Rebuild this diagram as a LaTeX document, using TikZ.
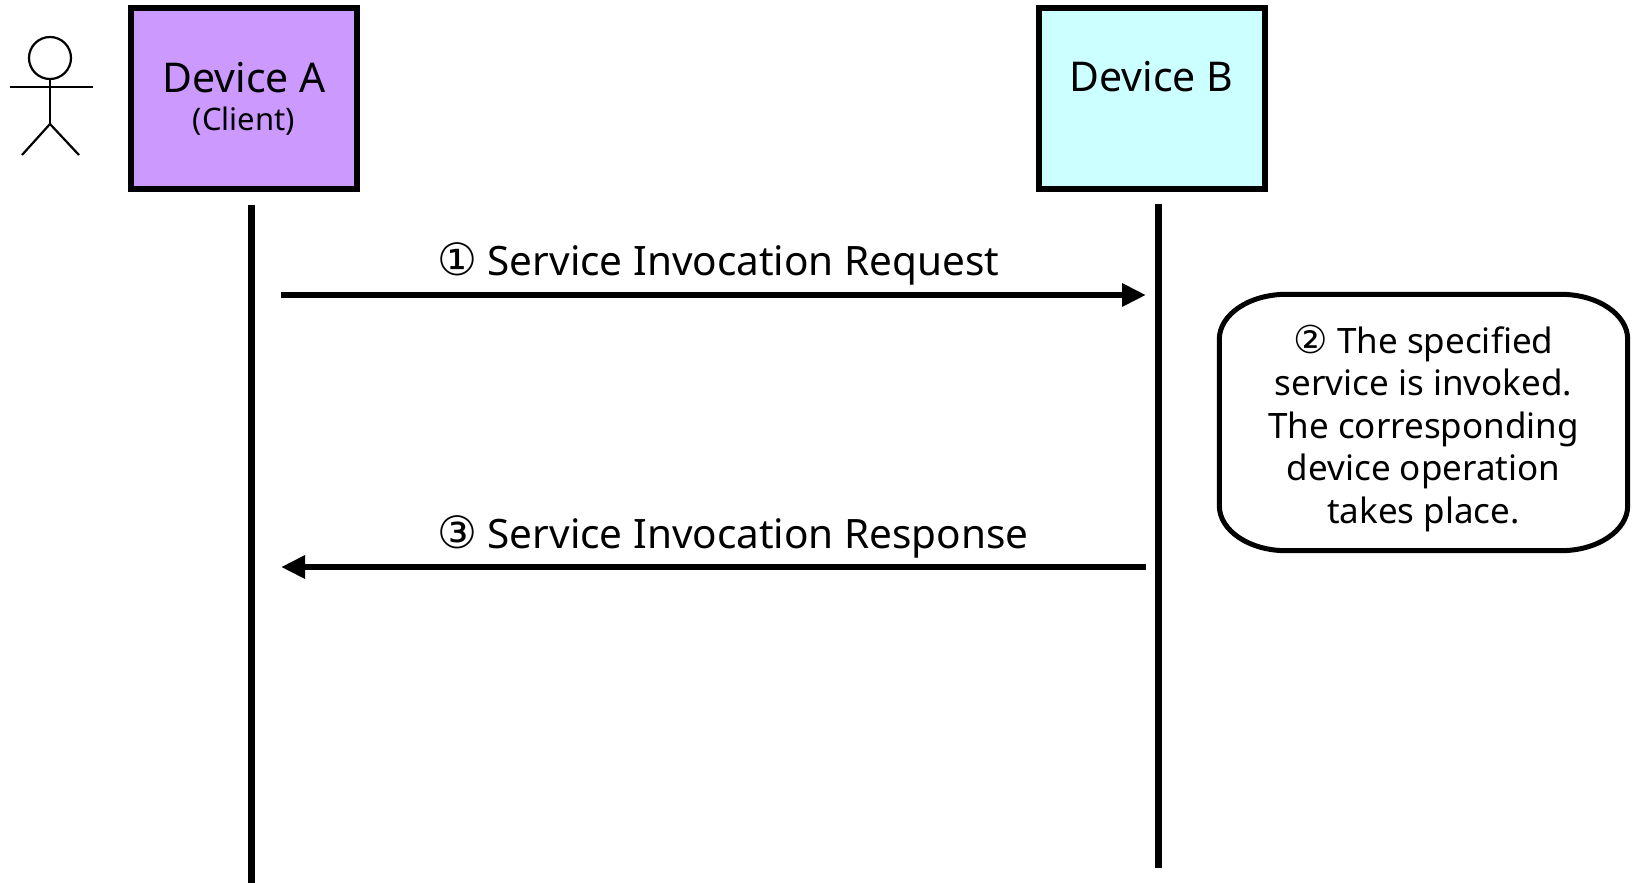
\documentclass[tikz,border=0pt]{standalone}
\usepackage{fontspec}
\usepackage{tikz}
\usetikzlibrary{arrows.meta,positioning}
\setmainfont{Noto Sans}
\newfontfamily\circfont[Scale=1.1]{DejaVu Sans}

\tikzset{
    devbox/.style = {draw, line width = 6pt, minimum width = 226pt, minimum height = 181pt, inner sep = 0pt, align = center, font = \fontsize{41}{44}\selectfont},
    lifeline/.style = {line width = 7pt},
    msg/.style = {line width = 6.5pt, -{Triangle[length = 24pt, width = 22pt]}},
    msglabel/.style = {inner sep = 0pt, anchor = base west, font = \fontsize{40.5}{44}\selectfont},
    stick/.style = {line width = 2.2pt}
}

\begin{document}
\begin{tikzpicture}[x = 1pt, y = -1pt]
        \useasboundingbox (0,0) rectangle (1634,883);
        
        % devices
        \node[devbox, fill = {rgb,255:red,204;green,153;blue,255}] (devA) at (244,98.5)
            {Device A\\[-6pt]{\fontsize{31}{34}\selectfont (Client)}};
        \node[devbox, fill = {rgb,255:red,204;green,255;blue,255}] (devB) at (1151.5,98.5)
            {Device B\\[0pt]\mbox{}};
        
        % actor
        \node[draw, stick, circle, minimum size = 42pt, inner sep = 0pt] (head) at (50,58) {};
        \coordinate (armL) at (10,87);
        \coordinate (armR) at (93,87);
        \coordinate (hip) at (50,124);
        \coordinate (legL) at (22,155);
        \coordinate (legR) at (79,155);
        \draw[stick] (armL) -- (armR);
        \draw[stick] (head.south) -- (hip);
        \draw[stick] (hip) -- (legL);
        \draw[stick] (hip) -- (legR);
        
        % lifelines
        \coordinate (topA) at (251,205);
        \coordinate (botA) at (251,883);
        \coordinate (topB) at (1158.5,204);
        \coordinate (botB) at (1158.5,868);
        \draw[lifeline] (topA) -- (botA);
        \draw[lifeline] (topB) -- (botB);
        
        % messages
        \coordinate (reqA) at (281,295);
        \coordinate (reqB) at (1146,295);
        \coordinate (resB) at (1146,567);
        \coordinate (resA) at (281,567);
        \draw[msg] (reqA) -- (reqB);
        \draw[msg] (resB) -- (resA);
        \node[msglabel] (reqlabel) at (437,275) {{\circfont ①} Service Invocation Request};
        \node[msglabel] (reslabel) at (437,548) {{\circfont ③} Service Invocation Response};
        
        % bubble
        \node[minimum width = 408pt, minimum height = 256pt,
              inner sep = 0pt, align = center, font = \fontsize{35}{42.5}\selectfont] (bubble) at (1423.5,422.5)
            {\rule{0pt}{40pt}{\circfont ②} The specified\\service is invoked.\\The corresponding\\device operation\\takes place.};
        \draw[line width = 5pt] ([xshift = 67pt]bubble.north west) -- ([xshift = -67pt]bubble.north east)
            arc[start angle = 90, end angle = 0, x radius = 67pt, y radius = 45pt]
            -- ([yshift = 45pt]bubble.south east)
            arc[start angle = 0, end angle = -90, x radius = 67pt, y radius = 45pt]
            -- ([xshift = 67pt]bubble.south west)
            arc[start angle = 270, end angle = 180, x radius = 67pt, y radius = 45pt]
            -- ([yshift = -45pt]bubble.north west)
            arc[start angle = 180, end angle = 90, x radius = 67pt, y radius = 45pt]
            -- cycle;
    \end{tikzpicture}
\end{document}
